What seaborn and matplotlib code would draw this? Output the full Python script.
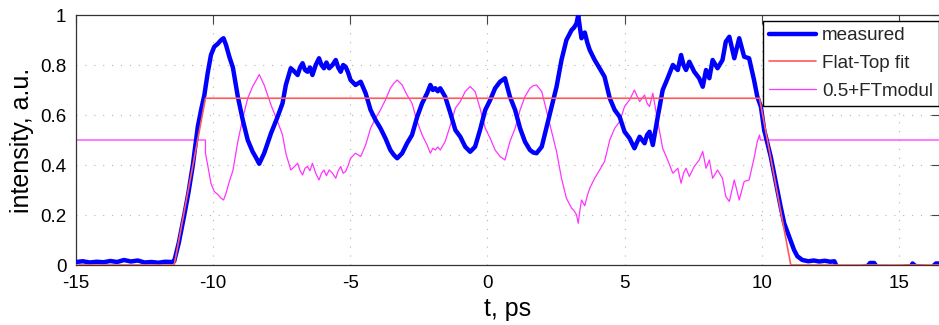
import numpy as np
import pandas as pd
import matplotlib
matplotlib.use("Agg")
import matplotlib.pyplot as plt
import seaborn as sns

# Measured intensity profile (t in ps, intensity in a.u.)
t_meas = [
    -15.0, -14.75, -14.5, -14.25, -14.0, -13.75, -13.5, -13.25, -13.0, -12.75,
    -12.5, -12.25, -12.0, -11.75, -11.5, -11.42, -11.25, -11.04, -10.9, -10.74,
    -10.56, -10.44, -10.32, -10.2, -10.08, -9.96, -9.83, -9.71, -9.62, -9.53,
    -9.41, -9.28, -9.1, -8.92, -8.74, -8.56, -8.44, -8.32, -8.14, -7.89,
    -7.65, -7.47, -7.35, -7.17, -7.05, -6.92, -6.83, -6.74, -6.65, -6.56,
    -6.47, -6.38, -6.26, -6.14, -6.05, -5.96, -5.87, -5.77, -5.65, -5.53,
    -5.44, -5.35, -5.26, -5.17, -5.08, -4.99, -4.81, -4.62, -4.44, -4.26,
    -4.08, -3.90, -3.72, -3.54, -3.41, -3.29, -3.11, -2.93, -2.75, -2.56,
    -2.38, -2.2, -2.08, -1.99, -1.90, -1.81, -1.72, -1.54, -1.35, -1.17,
    -0.99, -0.81, -0.63, -0.45, -0.27, -0.08, 0.10, 0.28, 0.46, 0.64,
    0.82, 1.01, 1.19, 1.37, 1.55, 1.67, 1.79, 1.98, 2.16, 2.34,
    2.52, 2.70, 2.88, 3.07, 3.16, 3.25, 3.31, 3.37, 3.43, 3.55,
    3.64, 3.73, 3.91, 4.09, 4.27, 4.46, 4.64, 4.82, 5.00, 5.18,
    5.36, 5.45, 5.55, 5.64, 5.73, 5.82, 5.91, 6.03, 6.21, 6.39,
    6.57, 6.76, 6.94, 7.06, 7.15, 7.24, 7.36, 7.54, 7.72, 7.85,
    7.97, 8.09, 8.21, 8.39, 8.57, 8.69, 8.82, 9.0, 9.18, 9.36,
    9.54, 9.72, 9.84, 9.97, 10.09, 10.21, 10.33, 10.45, 10.57, 10.69,
    10.82, 11.0, 11.18, 11.3, 11.48, 11.7, 11.9, 12.1, 12.3, 12.5,
    12.65, 12.75, 13.0, 13.5, 13.85, 13.95, 14.1, 14.2, 15.0, 15.45,
    15.5, 15.6, 16.2, 16.35, 16.5,
]
i_meas = [
    0.012, 0.015, 0.010, 0.013, 0.011, 0.016, 0.012, 0.020, 0.014, 0.018,
    0.010, 0.012, 0.009, 0.013, 0.012, 0.015, 0.090, 0.207, 0.290, 0.400,
    0.553, 0.620, 0.680, 0.767, 0.840, 0.873, 0.885, 0.900, 0.907, 0.880,
    0.833, 0.790, 0.673, 0.580, 0.500, 0.453, 0.430, 0.405, 0.447, 0.527,
    0.593, 0.647, 0.720, 0.787, 0.775, 0.760, 0.790, 0.807, 0.780, 0.773,
    0.790, 0.760, 0.800, 0.827, 0.800, 0.787, 0.810, 0.787, 0.800, 0.820,
    0.790, 0.773, 0.800, 0.793, 0.770, 0.740, 0.720, 0.733, 0.687, 0.620,
    0.580, 0.547, 0.507, 0.460, 0.440, 0.427, 0.447, 0.487, 0.520, 0.593,
    0.647, 0.687, 0.720, 0.700, 0.707, 0.695, 0.707, 0.673, 0.607, 0.540,
    0.513, 0.473, 0.453, 0.473, 0.540, 0.620, 0.660, 0.707, 0.733, 0.747,
    0.673, 0.620, 0.547, 0.493, 0.460, 0.450, 0.447, 0.473, 0.553, 0.633,
    0.713, 0.820, 0.900, 0.940, 0.950, 0.967, 1.000, 0.950, 0.907, 0.930,
    0.890, 0.860, 0.820, 0.787, 0.753, 0.667, 0.620, 0.593, 0.533, 0.507,
    0.467, 0.490, 0.513, 0.500, 0.487, 0.520, 0.533, 0.480, 0.593, 0.700,
    0.747, 0.800, 0.780, 0.840, 0.800, 0.780, 0.813, 0.773, 0.747, 0.713,
    0.780, 0.747, 0.820, 0.787, 0.820, 0.893, 0.913, 0.827, 0.907, 0.833,
    0.827, 0.740, 0.673, 0.633, 0.540, 0.487, 0.433, 0.367, 0.300, 0.233,
    0.167, 0.113, 0.060, 0.035, 0.020, 0.015, 0.018, 0.014, 0.017, 0.013,
    0.015, -0.010, -0.015, -0.010, -0.005, 0.008, 0.008, -0.008, -0.010, -0.004,
    0.006, -0.004, -0.010, 0.006, 0.006,
]

# Flat-top fit: breakpoints of the trapezoid
t_fit = [-15.0, -11.42, -10.28, 9.92, 11.06, 16.5]
i_fit = [0.0, 0.0, 0.667, 0.667, 0.0, 0.0]

# 0.5 + flat-top modulation
t_mod = [
    -15.0, -10.28, -10.28, -10.2, -10.08, -9.96, -9.83, -9.71, -9.62, -9.53,
    -9.41, -9.28, -9.1, -8.92, -8.74, -8.56, -8.44, -8.32, -8.14, -7.89,
    -7.65, -7.47, -7.35, -7.17, -7.05, -6.92, -6.83, -6.74, -6.65, -6.56,
    -6.47, -6.38, -6.26, -6.14, -6.05, -5.96, -5.87, -5.77, -5.65, -5.53,
    -5.44, -5.35, -5.26, -5.17, -5.08, -4.99, -4.81, -4.62, -4.44, -4.26,
    -4.08, -3.90, -3.72, -3.54, -3.41, -3.29, -3.11, -2.93, -2.75, -2.56,
    -2.38, -2.2, -2.08, -1.99, -1.90, -1.81, -1.72, -1.54, -1.35, -1.17,
    -0.99, -0.81, -0.63, -0.45, -0.27, -0.08, 0.10, 0.28, 0.46, 0.64,
    0.82, 1.01, 1.19, 1.37, 1.55, 1.67, 1.79, 1.98, 2.16, 2.34,
    2.52, 2.70, 2.88, 3.07, 3.16, 3.25, 3.31, 3.37, 3.43, 3.55,
    3.64, 3.73, 3.91, 4.09, 4.27, 4.46, 4.64, 4.82, 5.00, 5.18,
    5.36, 5.45, 5.55, 5.64, 5.73, 5.82, 5.91, 6.03, 6.21, 6.39,
    6.57, 6.76, 6.94, 7.06, 7.15, 7.24, 7.36, 7.54, 7.72, 7.85,
    7.97, 8.09, 8.21, 8.39, 8.57, 8.69, 8.82, 9.0, 9.18, 9.36,
    9.54, 9.72, 9.84, 9.92, 9.95, 16.5,
]
i_mod = [
    0.500, 0.500, 0.447, 0.400, 0.327, 0.294, 0.282, 0.267, 0.260, 0.287,
    0.334, 0.377, 0.494, 0.587, 0.667, 0.714, 0.737, 0.762, 0.720, 0.640,
    0.574, 0.520, 0.447, 0.380, 0.392, 0.407, 0.377, 0.360, 0.387, 0.394,
    0.377, 0.407, 0.367, 0.340, 0.367, 0.380, 0.357, 0.380, 0.367, 0.347,
    0.377, 0.394, 0.367, 0.374, 0.397, 0.427, 0.447, 0.434, 0.480, 0.547,
    0.587, 0.620, 0.660, 0.707, 0.727, 0.740, 0.720, 0.680, 0.647, 0.574,
    0.520, 0.480, 0.447, 0.467, 0.460, 0.472, 0.460, 0.494, 0.560, 0.627,
    0.654, 0.694, 0.714, 0.694, 0.627, 0.547, 0.507, 0.460, 0.434, 0.420,
    0.494, 0.547, 0.620, 0.674, 0.707, 0.717, 0.720, 0.694, 0.614, 0.534,
    0.454, 0.347, 0.267, 0.227, 0.217, 0.200, 0.167, 0.217, 0.260, 0.237,
    0.277, 0.307, 0.347, 0.380, 0.414, 0.500, 0.547, 0.574, 0.634, 0.660,
    0.700, 0.677, 0.654, 0.667, 0.680, 0.647, 0.634, 0.687, 0.574, 0.467,
    0.420, 0.367, 0.387, 0.327, 0.367, 0.387, 0.354, 0.394, 0.420, 0.454,
    0.387, 0.420, 0.347, 0.380, 0.347, 0.274, 0.254, 0.340, 0.260, 0.334,
    0.340, 0.427, 0.494, 0.520, 0.500, 0.500,
]

x_ticks = [-15, -10, -5, 0, 5, 10, 15]
y_ticks = [0, 0.2, 0.4, 0.6, 0.8, 1]
series_labels = ["measured", "Flat-Top fit", "0.5+FTmodul"]

sns.set_theme(style="white")
plt.rcParams["font.family"] = ["Liberation Sans", "DejaVu Sans"]

fig = plt.figure(figsize=(9.39, 3.25), dpi=100)
ax = fig.add_axes([76 / 939, 60 / 325, 864 / 939, 250 / 325])

df_meas = pd.DataFrame({"t": t_meas, "I": i_meas})
df_fit = pd.DataFrame({"t": t_fit, "I": i_fit})
df_mod = pd.DataFrame({"t": t_mod, "I": i_mod})

sns.lineplot(data=df_meas, x="t", y="I", ax=ax, color="#0000ff", lw=3.2,
             estimator=None, sort=False, label=series_labels[0], zorder=3)
sns.lineplot(data=df_fit, x="t", y="I", ax=ax, color="#ff5a5a", lw=1.2,
             estimator=None, sort=False, label=series_labels[1], zorder=4)
sns.lineplot(data=df_mod, x="t", y="I", ax=ax, color="#ff33ff", lw=0.9,
             estimator=None, sort=False, label=series_labels[2], zorder=2)

ax.set_xlim(-15, 16.5)
ax.set_ylim(0, 1)
ax.set_xticks(x_ticks)
ax.set_xticklabels([str(v) for v in x_ticks])
ax.set_yticks(y_ticks)
ax.set_yticklabels(["0", "0.2", "0.4", "0.6", "0.8", "1"])

ax.grid(True, color="#b4b4b4", lw=0.8, linestyle=(0, (1, 7)))
ax.set_axisbelow(True)
for s in ax.spines.values():
    s.set_visible(True)
    s.set_color("#333333")
    s.set_linewidth(0.9)

ax.tick_params(direction="in", length=6.5, width=0.8, color="#444444",
               top=True, right=True, labelsize=13.5, labelcolor="black",
               pad=7)
ax.set_xlabel("t, ps", fontsize=18, color="black", labelpad=4)
ax.set_ylabel("intensity, a.u.", fontsize=18, color="black", labelpad=4)

handles, labels = ax.get_legend_handles_labels()
leg = ax.legend(handles, labels, loc="upper left",
                bbox_to_anchor=(763 / 939, 1 - 21 / 325),
                bbox_transform=fig.transFigure, frameon=True, fancybox=False,
                edgecolor="black", framealpha=1, borderaxespad=0,
                handlelength=2.5, handletextpad=0.3, labelspacing=0.56,
                borderpad=0.32, fontsize=13.6)
leg.get_frame().set_linewidth(1.0)

fig.savefig("out.png", dpi=100)
